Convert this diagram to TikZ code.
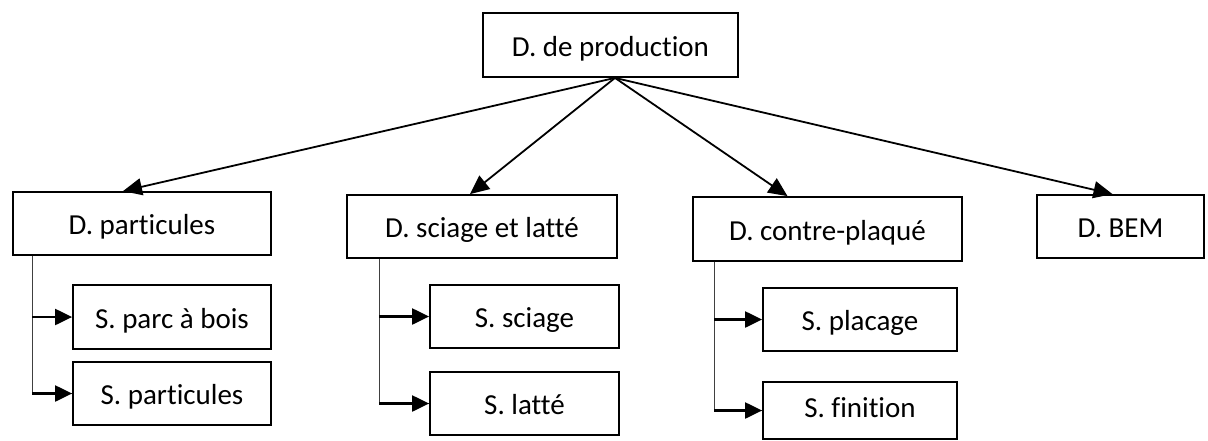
\documentclass[tikz,border=0pt]{standalone}
\usepackage{fontspec}
\setmainfont{Carlito}[Ligatures={NoCommon}]
\usetikzlibrary{arrows.meta}
\tikzset{
  box/.style={draw=black, line width=1.8pt, fill=white, inner sep=0pt, align=center,
    text height=22pt, text depth=0pt, font=\fontsize{29}{34}\selectfont},
  mainarrow/.style={line width=1.8pt, -{Triangle[length=19pt,width=17pt]}},
  trunk/.style={line width=1pt, draw=black!75},
  stub/.style={line width=2.2pt, -{Triangle[length=17pt,width=16pt]}}
}
\begin{document}
\begin{tikzpicture}[x=1pt,y=-1pt]
\useasboundingbox (0,0) rectangle (1208,440);
% top
\node[box, minimum width=255pt, minimum height=64pt] (top) at (610.5,45) {D. de production};
% departments
\node[box, minimum width=258pt, minimum height=63pt] (dpart) at (142,223.5) {D. particules};
\node[box, minimum width=270pt, minimum height=63pt] (dscia) at (482,226.5) {D. sciage et latté};
\node[box, minimum width=269pt, minimum height=64pt] (dcont) at (827.5,229) {D. contre-plaqué};
\node[box, minimum width=167pt, minimum height=63pt] (dbem) at (1120.5,226.5) {D. BEM};
% services
\node[box, minimum width=198pt, minimum height=64pt] (sparc) at (172,317) {S. parc à bois};
\node[box, minimum width=198pt, minimum height=63pt] (spart) at (172,393.5) {S. particules};
\node[box, minimum width=189pt, minimum height=63pt] (sscia) at (524.5,316.5) {S. sciage};
\node[box, minimum width=189pt, minimum height=63pt] (slatt) at (524.5,403.5) {S. latté};
\node[box, minimum width=194pt, minimum height=63pt] (splac) at (860,319.5) {S. placage};
\node[box, minimum width=194pt, minimum height=57pt, text height=13pt] (sfini) at (860,410.5) {S. finition};
% main arrows
\draw[mainarrow] ([xshift=4.5pt]top.south) -- ([xshift=-19pt]dpart.north);
\draw[mainarrow] ([xshift=4.5pt]top.south) -- ([xshift=-12pt]dscia.north);
\draw[mainarrow] ([xshift=4.5pt]top.south) -- ([xshift=-40pt]dcont.north);
\draw[mainarrow] ([xshift=4.5pt]top.south) -- ([xshift=-8pt]dbem.north);
% trunks
\draw[trunk] ([xshift=20pt]dpart.south west) |- (spart.west);
\draw[trunk] ([xshift=33pt]dscia.south west) |- (slatt.west);
\draw[trunk] ([xshift=22pt]dcont.south west) |- (sfini.west);
% stubs
\draw[stub] ([xshift=20pt]dpart.south west |- sparc.west) -- (sparc.west);
\draw[stub] ([xshift=20pt]dpart.south west |- spart.west) -- (spart.west);
\draw[stub] ([xshift=33pt]dscia.south west |- sscia.west) -- (sscia.west);
\draw[stub] ([xshift=33pt]dscia.south west |- slatt.west) -- (slatt.west);
\draw[stub] ([xshift=22pt]dcont.south west |- splac.west) -- (splac.west);
\draw[stub] ([xshift=22pt]dcont.south west |- sfini.west) -- (sfini.west);
\end{tikzpicture}
\end{document}
